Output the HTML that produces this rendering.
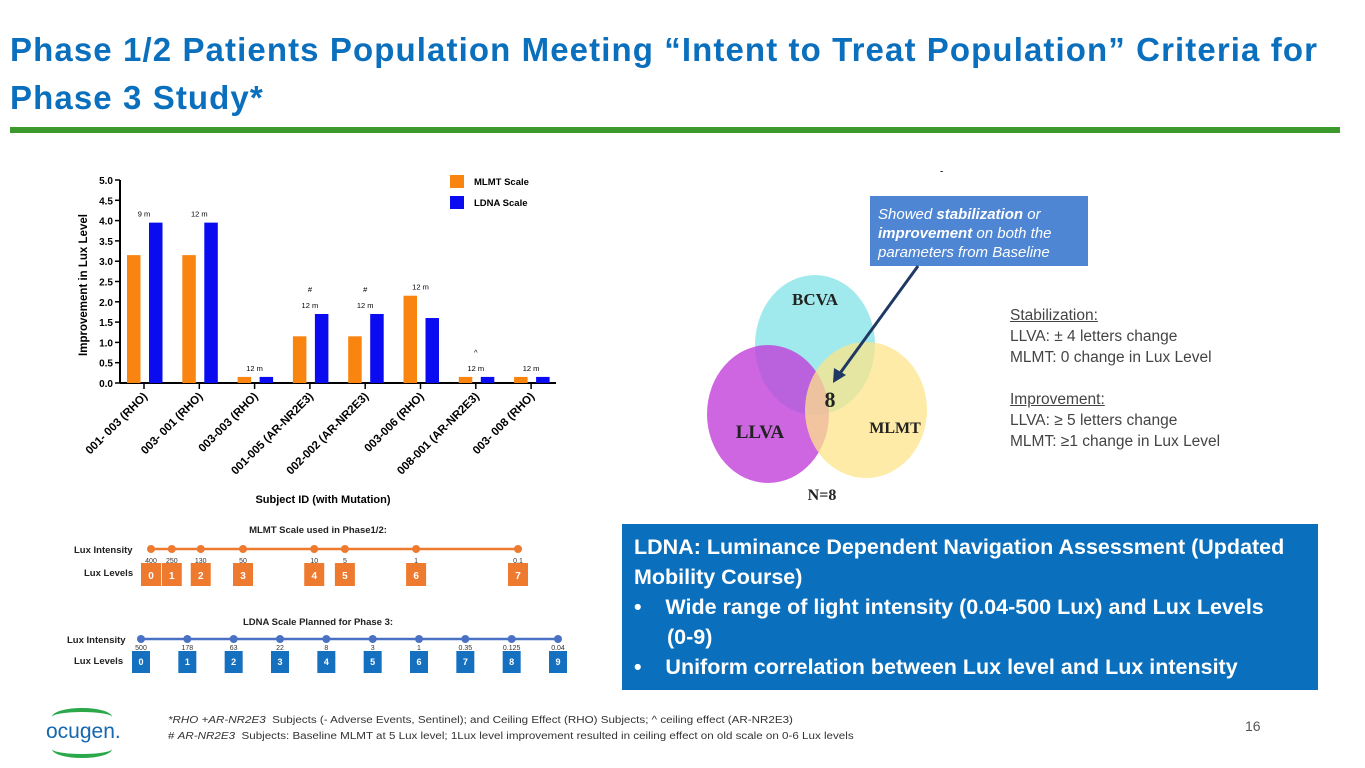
<!DOCTYPE html>
<html><head><meta charset="utf-8">
<style>
body{margin:0;width:1365px;height:768px;background:#fff;font-family:"Liberation Sans",sans-serif;position:relative;overflow:hidden}
.t{position:absolute;white-space:nowrap}
</style></head><body>
<div class="t" style="left:10px;top:26px;font-size:33px;letter-spacing:1.1px;font-weight:bold;color:#0a6fbd;line-height:48px">Phase 1/2 Patients Population Meeting “Intent to Treat Population” Criteria for<br>Phase 3 Study*</div>
<div style="position:absolute;left:10px;top:127px;width:1330px;height:6px;background:#3c9a2c"></div>

<svg id="chart" width="600" height="520" style="position:absolute;left:0;top:140px" font-family="Liberation Sans, sans-serif"></svg>

<svg width="600" height="380" style="position:absolute;left:690px;top:150px" font-family="Liberation Serif, serif">
<text x="250" y="24" font-size="10">-</text>
<ellipse cx="125" cy="195" rx="60" ry="70" fill="#8fe6ea" opacity="0.85"/>
<ellipse cx="78" cy="264" rx="61" ry="69" fill="#c040d8" opacity="0.8"/>
<ellipse cx="176" cy="260" rx="61" ry="68" fill="#fde48a" opacity="0.75"/>
<text x="125" y="155" font-size="17" font-weight="bold" text-anchor="middle" fill="#222">BCVA</text>
<text x="70" y="288" font-size="19" font-weight="bold" text-anchor="middle" fill="#222">LLVA</text>
<text x="205" y="283" font-size="16" font-weight="bold" text-anchor="middle" fill="#222">MLMT</text>
<text x="140" y="257" font-size="22" font-weight="bold" text-anchor="middle" fill="#222">8</text>
<text x="132" y="350" font-size="16" font-weight="bold" text-anchor="middle" fill="#222">N=8</text>
<rect x="180" y="46" width="218" height="70" fill="#4f86d4"/>
<text x="188" y="69" font-family="Liberation Sans, sans-serif" font-size="15" font-style="italic" fill="#fff">Showed <tspan font-weight="bold">stabilization</tspan> or</text>
<text x="188" y="88" font-family="Liberation Sans, sans-serif" font-size="15" font-style="italic" fill="#fff"><tspan font-weight="bold">improvement</tspan> on both the</text>
<text x="188" y="107" font-family="Liberation Sans, sans-serif" font-size="15" font-style="italic" fill="#fff">parameters from Baseline</text>
<line x1="228" y1="116" x2="148" y2="226" stroke="#1f3864" stroke-width="3"/>
<polygon points="143,233 144,218 156,225" fill="#1f3864"/>
</svg>

<div class="t" style="left:1010px;top:305px;font-size:15.5px;color:#444;line-height:21px">
<u>Stabilization:</u><br>LLVA: ± 4 letters change<br>MLMT: 0 change in Lux Level<br><br><u>Improvement:</u><br>LLVA: ≥ 5 letters change<br>MLMT: ≥1 change in Lux Level</div>

<svg id="scales" width="600" height="180" style="position:absolute;left:0;top:515px" font-family="Liberation Sans, sans-serif"></svg>

<div style="position:absolute;left:622px;top:524px;width:696px;height:166px;background:#0a6fbd;color:#fff;font-weight:bold;font-size:21.5px;line-height:30px;box-sizing:border-box;padding:8px 12px;white-space:nowrap">
<div>LDNA: Luminance Dependent Navigation Assessment (Updated<br>Mobility Course)</div>
<div style="padding-left:33px;text-indent:-33px">•&nbsp;&nbsp;&nbsp;&nbsp;Wide range of light intensity (0.04-500 Lux) and Lux Levels<br>(0-9)</div>
<div style="padding-left:33px;text-indent:-33px">•&nbsp;&nbsp;&nbsp;&nbsp;Uniform correlation between Lux level and Lux intensity</div>
</div>

<div style="position:absolute;left:40px;top:708px;width:90px;height:48px">
<div style="position:absolute;left:12px;top:0;width:60px;height:14px;border-top:4px solid #2aa84a;border-radius:50%"></div>
<div class="t" style="left:6px;top:12px;font-size:21px;color:#1567b0">ocugen.</div>
<div style="position:absolute;left:12px;top:32px;width:60px;height:14px;border-bottom:4px solid #2aa84a;border-radius:50%"></div>
</div>
<div class="t" style="left:168px;top:713px;font-size:10px;color:#333;line-height:16px;transform:scaleX(1.16);transform-origin:0 0">
<i>*RHO +AR-NR2E3</i>&nbsp; Subjects (- Adverse Events, Sentinel); and Ceiling Effect (RHO) Subjects; ^ ceiling effect (AR-NR2E3)<br># <i>AR-NR2E3</i>&nbsp; Subjects: Baseline MLMT at 5 Lux level; 1Lux level improvement resulted in ceiling effect on old scale on 0-6 Lux levels</div>
<div class="t" style="left:1245px;top:718px;font-size:14px;color:#555">16</div>

<script>
const categories=["001- 003 (RHO)","003- 001 (RHO)","003-003 (RHO)","001-005 (AR-NR2E3)","002-002 (AR-NR2E3)","003-006 (RHO)","008-001 (AR-NR2E3)","003- 008 (RHO)"];
const mlmtValues=[3.15,3.15,0.15,1.15,1.15,2.15,0.15,0.15];
const ldnaValues=[3.95,3.95,0.15,1.7,1.7,1.6,0.15,0.15];
const durationLabels=["9 m","12 m","12 m","12 m","12 m","12 m","12 m","12 m"];
const markLabels=["","","","#","#","","^",""];
const yTicks=[0,0.5,1,1.5,2,2.5,3,3.5,4,4.5,5];
const mlmtIntensity=["400","250","130","50","10","5","1","0.1"];
const mlmtLevels=[0,1,2,3,4,5,6,7];
const mlmtLogLux=[2.602,2.398,2.114,1.699,1,0.699,0,-1];
const ldnaIntensity=["500","178","63","22","8","3","1","0.35","0.125","0.04"];
const ldnaLevels=[0,1,2,3,4,5,6,7,8,9];

const NS="http://www.w3.org/2000/svg";
function el(p,tag,a,txt){const e=document.createElementNS(NS,tag);for(const k in a)e.setAttribute(k,a[k]);if(txt!==undefined)e.textContent=txt;p.appendChild(e);return e;}
const svg=document.getElementById('chart');
const x0=120,yBase=243,yTop=40,step=55.3,firstC=144;
const y=v=>yBase-(v/5)*(yBase-yTop);
const xc=i=>firstC+i*step;
el(svg,'line',{x1:x0,y1:yTop,x2:x0,y2:yBase,stroke:'#000','stroke-width':2});
el(svg,'line',{x1:x0,y1:yBase,x2:556,y2:yBase,stroke:'#000','stroke-width':2});
yTicks.forEach(t=>{
 el(svg,'line',{x1:x0-5,y1:y(t),x2:x0,y2:y(t),stroke:'#000','stroke-width':1.5});
 const tx=el(svg,'text',{x:x0-7,y:y(t)+4,'font-size':10,'font-weight':'bold','text-anchor':'end'},t.toFixed(1));
 
 
});
const yt=el(svg,'text',{x:0,y:0,'font-size':11.5,'font-weight':'bold','text-anchor':'middle',transform:'translate(87,145) rotate(-90)'},'Improvement in Lux Level');


categories.forEach((c,i)=>{
 const cx=xc(i);
 const b1=el(svg,'rect',{x:cx-17,y:y(mlmtValues[i]),width:13.5,height:yBase-y(mlmtValues[i]),fill:'#f98510'});
 
 
 const b2=el(svg,'rect',{x:cx+5,y:y(ldnaValues[i]),width:13.5,height:yBase-y(ldnaValues[i]),fill:'#0b0bf2'});
 
 
 el(svg,'line',{x1:cx,y1:yBase,x2:cx,y2:yBase+6,stroke:'#000','stroke-width':1.5});
 const top=y(Math.max(mlmtValues[i],ldnaValues[i]));
 const dl=el(svg,'text',{x:cx,y:top-6,'font-size':7.5,'text-anchor':'middle'},durationLabels[i]);
 
 
 if(markLabels[i]){const m=el(svg,'text',{x:cx,y:top-22,'font-size':7.5,'text-anchor':'middle'},markLabels[i]);
  
  }
 const cl=el(svg,'text',{x:0,y:0,'font-size':11.5,'font-weight':'bold','text-anchor':'end',transform:`translate(${cx+4},${yBase+14}) rotate(-45)`},c);
 
 
});
const xt=el(svg,'text',{x:323,y:363,'font-size':11,'font-weight':'bold','text-anchor':'middle'},'Subject ID (with Mutation)');


[['MLMT Scale','#f98510',35],['LDNA Scale','#0b0bf2',56]].forEach(([t,c,yy])=>{
 const r=el(svg,'rect',{x:450,y:yy,width:14,height:13,fill:c});
 
 
 const tx=el(svg,'text',{x:474,y:yy+10,'font-size':9.5,'font-weight':'bold'},t);
 
 
});

// scales
const sc=document.getElementById('scales');
function lbl(x,yy,t,size,anchor,name){const e=el(sc,'text',{x:x,y:yy,'font-size':size,'font-weight':'bold','text-anchor':anchor||'start',fill:'#222'},t);
 
 }
lbl(318,18,'MLMT Scale used in Phase1/2:',9.5,'middle','mlmt-scale-title');
lbl(74,38,'Lux Intensity',9.5,'start','mlmt-intensity-label');
lbl(84,61,'Lux Levels',9.5,'start','mlmt-levels-label');
const mx=v=>151+(2.602-v)*(518-151)/3.602;
el(sc,'line',{x1:151,y1:34,x2:518,y2:34,stroke:'#ee7a30','stroke-width':2.5});
mlmtLogLux.forEach((v,i)=>{
 const X=mx(v);
 const d=el(sc,'circle',{cx:X,cy:34,r:4,fill:'#ee7a30'});
 
 
 el(sc,'text',{x:X,y:48,'font-size':7,'text-anchor':'middle',fill:'#333'},mlmtIntensity[i]);
 const b=el(sc,'rect',{x:X-10,y:48,width:20,height:23,fill:'#ee7a30'});
 
 
 el(sc,'text',{x:X,y:64,'font-size':10,'font-weight':'bold','text-anchor':'middle',fill:'#fff'},mlmtLevels[i]);
});
lbl(318,110,'LDNA Scale Planned for Phase 3:',9.5,'middle','ldna-scale-title');
lbl(67,128,'Lux Intensity',9.5,'start','ldna-intensity-label');
lbl(74,149,'Lux Levels',9.5,'start','ldna-levels-label');
const lx=i=>141+i*(558-141)/9;
el(sc,'line',{x1:141,y1:124,x2:560,y2:124,stroke:'#4a72c4','stroke-width':2.5});
ldnaLevels.forEach((lv,i)=>{
 const X=lx(lv);
 const d=el(sc,'circle',{cx:X,cy:124,r:4,fill:'#4a72c4'});
 
 
 el(sc,'text',{x:X,y:135,'font-size':7,'text-anchor':'middle',fill:'#333'},ldnaIntensity[i]);
 const b=el(sc,'rect',{x:X-9,y:136,width:18,height:22,fill:'#1670c0'});
 
 
 el(sc,'text',{x:X,y:150,'font-size':9,'font-weight':'bold','text-anchor':'middle',fill:'#fff'},lv);
});
</script>
</body></html>
